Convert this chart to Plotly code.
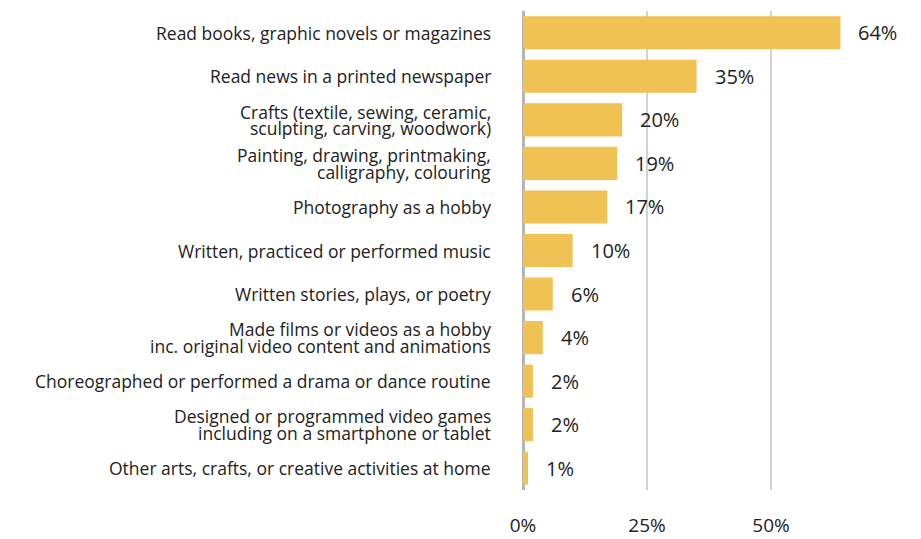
import plotly.graph_objects as go

# Share of respondents taking part in each creative activity at home
activities = [
    "Read books, graphic novels or magazines",
    "Read news in a printed newspaper",
    "Crafts (textile, sewing, ceramic,<br>sculpting, carving, woodwork)",
    "Painting, drawing, printmaking,<br>calligraphy, colouring",
    "Photography as a hobby",
    "Written, practiced or performed music",
    "Written stories, plays, or poetry",
    "Made films or videos as a hobby<br>inc. original video content and animations",
    "Choreographed or performed a drama or dance routine",
    "Designed or programmed video games<br>including on a smartphone or tablet",
    "Other arts, crafts, or creative activities at home",
]
shares = [64, 35, 20, 19, 17, 10, 6, 4, 2, 2, 1]
x_ticks = [0, 25, 50]
x_tick_labels = ["0%", "25%", "50%"]

BAR = "#F0C153"
TEXT = "#222222"
FONT = "Open Sans"

fig = go.Figure(
    go.Bar(
        x=shares,
        y=list(range(len(activities))),
        orientation="h",
        marker=dict(color=BAR, line=dict(width=0)),
        width=0.76,
        hoverinfo="skip",
    )
)

annotations = []
# Category labels, one annotation per line for tight line spacing
for i, label in enumerate(activities):
    lines = label.split("<br>")
    n = len(lines)
    for j, line in enumerate(lines):
        annotations.append(dict(
            x=0, y=i, xref="x", yref="y",
            text=line, showarrow=False,
            xanchor="right", yanchor="middle",
            xshift=-30, yshift=((n - 1) / 2 - j) * 16.5,
            font=dict(family=FONT, size=17.5, color=TEXT),
        ))
# Value labels beside each bar
for i, v in enumerate(shares):
    annotations.append(dict(
        x=v, y=i, xref="x", yref="y",
        text=f"{v}%", showarrow=False,
        xanchor="left", yanchor="middle", xshift=16,
        font=dict(family=FONT, size=20, color=TEXT),
    ))

fig.update_layout(
    width=921, height=539,
    margin=dict(l=523, r=26, t=11, b=49),
    paper_bgcolor="white", plot_bgcolor="white",
    showlegend=False,
    bargap=0.24,
    annotations=annotations,
    xaxis=dict(
        range=[0, 75],
        tickvals=x_ticks, ticktext=x_tick_labels,
        showgrid=True, gridcolor="#d2d2d2", gridwidth=1.5,
        zeroline=True, zerolinecolor="#b5b5b5", zerolinewidth=2.5,
        showline=False, ticks="",
        ticklabelstandoff=22,
        automargin=False,
        tickfont=dict(family=FONT, size=19, color=TEXT),
        fixedrange=True,
    ),
    yaxis=dict(
        range=[len(activities) - 0.5, -0.5],
        showticklabels=False, showgrid=False, zeroline=False,
        ticks="", fixedrange=True, automargin=False,
    ),
)

fig.write_html("out.html")
